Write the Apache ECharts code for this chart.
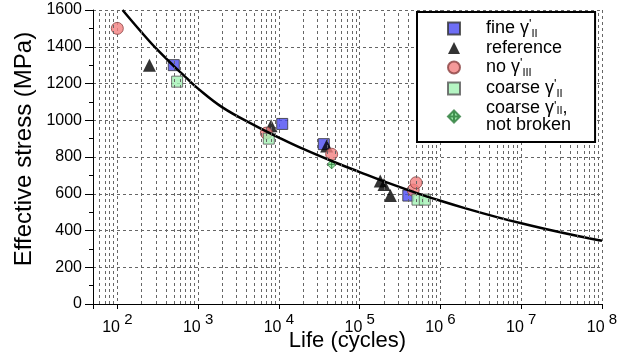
<!DOCTYPE html>
<html>
<head>
<meta charset="utf-8">
<script src="https://cdn.jsdelivr.net/npm/echarts@6/dist/echarts.min.js"></script>
<style>
  html, body { margin: 0; padding: 0; background: #fff; }
  #chart { width: 618px; height: 353px; }
</style>
</head>
<body>
<div id="chart"></div>
<script>
// values
const fineLife = [500, 11000, 36000, 400000];
const fineStress = [1300, 980, 870, 590];
const refLife = [250, 8000, 39000, 180000, 200000, 240000];
const refStress = [1300, 970, 860, 670, 650, 590];
const noLife = [100, 7000, 45000, 460000, 500000];
const noStress = [1500, 930, 815, 620, 660];
const coarseLife = [550, 7500, 520000, 640000];
const coarseStress = [1210, 900, 568, 568];
const notBrokenLife = [45000];
const notBrokenStress = [760];
const fitLife = [116, 200, 300, 500, 700, 1000, 2000, 5000, 1e4, 2e4, 5e4, 1e5, 2e5, 5e5, 1e6, 2e6, 5e6, 1e7, 2e7, 5e7, 1e8];
const fitStress = [1600, 1478, 1392, 1295, 1235, 1172, 1070, 972, 906, 844, 770, 718, 667, 605, 562, 522, 473, 439, 408, 370, 344];

// minor log gridlines (2..9 of each decade)
const minorLines = [];
for (let d = 1; d <= 7; d++) {
  for (let m = 2; m <= 9; m++) {
    const v = m * Math.pow(10, d);
    if (v > 50) minorLines.push({ xAxis: v });
  }
}

const FONT = "Liberation Sans";
const pairs = (xs, ys) => xs.map((x, i) => [x, ys[i]]);

const gammaRich = {
  n: { fontSize: 18, lineHeight: 21, fontFamily: FONT, color: "#000" },
  sup: { fontSize: 13, lineHeight: 21, verticalAlign: "top", fontFamily: FONT, color: "#000" },
  sub: { fontSize: 11, lineHeight: 21, verticalAlign: "bottom", fontFamily: FONT, color: "#000" },
  m: { fontSize: 18, lineHeight: 17, fontFamily: FONT, color: "#000" },
  msup: { fontSize: 13, lineHeight: 17, verticalAlign: "top", fontFamily: FONT, color: "#000" },
  msub: { fontSize: 11, lineHeight: 17, verticalAlign: "bottom", fontFamily: FONT, color: "#000" }
};

const labels = {
  fine: "{n|fine γ}{sup|'}{sub|II}",
  ref: "{n|reference}",
  no: "{n|no γ}{sup|'}{sub|III}",
  coarse: "{n|coarse γ}{sup|'}{sub|II}",
  nb: "{m|coarse γ}{msup|'}{msub|II}{m|,}\n{m|not broken}"
};

const chart = echarts.init(document.getElementById("chart"));

const gridStyle = { type: [3, 3], color: "#666", width: 1 };

chart.setOption({
  animation: false,
  textStyle: { fontFamily: FONT },
  grid: { left: 93, right: 16, top: 10, bottom: 49, containLabel: false, outerBoundsMode: "none" },
  xAxis: {
    type: "log",
    logBase: 10,
    min: 50,
    max: 1e8,
    name: "Life (cycles)",
    nameLocation: "middle",
    nameGap: 26,
    nameMoveOverlap: false,
    nameTextStyle: { fontSize: 22, color: "#000", fontFamily: FONT },
    axisLine: { show: true, lineStyle: { color: "#000", width: 1 } },
    axisTick: { show: true, length: 5, lineStyle: { color: "#000" } },
    splitLine: { show: true, lineStyle: gridStyle },
    axisLabel: {
      margin: 8,
      formatter: v => {
        const e = Math.log10(v);
        if (Math.abs(e - Math.round(e)) > 1e-6) return "";
        return "{b|10}{s| " + Math.round(e) + "}";
      },
      rich: {
        b: { fontSize: 16, lineHeight: 24, verticalAlign: "bottom", color: "#000", fontFamily: FONT },
        s: { fontSize: 15, lineHeight: 24, verticalAlign: "top", color: "#000", fontFamily: FONT }
      }
    }
  },
  yAxis: {
    type: "value",
    min: 0,
    max: 1600,
    interval: 200,
    name: "Effective stress (MPa)",
    nameLocation: "middle",
    nameGap: 57,
    nameMoveOverlap: false,
    nameTextStyle: { fontSize: 24, color: "#000", fontFamily: FONT, padding: [0, 0, 0, 16] },
    axisLine: { show: true, lineStyle: { color: "#000", width: 1 } },
    axisTick: { show: true, length: 8, lineStyle: { color: "#000" } },
    minorTick: { show: true, splitNumber: 2, length: 4, lineStyle: { color: "#000" } },
    splitLine: { show: true, lineStyle: gridStyle },
    axisLabel: { fontSize: 16, color: "#000", margin: 11, fontFamily: FONT, formatter: v => String(v) }
  },
  legend: {
    orient: "vertical",
    left: 417,
    top: 12,
    padding: [6, 24, 8, 30],
    itemGap: 0,
    itemWidth: 12,
    itemHeight: 12,
    backgroundColor: "#fff",
    borderColor: "#000",
    borderWidth: 2,
    borderRadius: 0,
    z: 10,
    data: ["fine", "ref", "no", "coarse", "nb"],
    formatter: name => labels[name],
    textStyle: { padding: [0, 0, 0, 21], rich: gammaRich }
  },
  series: [
    {
      type: "line",
      name: "grid",
      data: [],
      silent: true,
      z: 1,
      markLine: {
        silent: true,
        symbol: ["none", "none"],
        label: { show: false },
        lineStyle: gridStyle,
        data: minorLines
      }
    },
    {
      type: "scatter", name: "fine", z: 3,
      symbol: "rect", symbolSize: 11,
      itemStyle: { color: "#4a4af2", borderColor: "#333", borderWidth: 1 },
      data: pairs(fineLife, fineStress)
    },
    {
      type: "scatter", name: "ref", z: 3,
      symbol: "triangle", symbolSize: 13,
      itemStyle: { color: "#000" },
      data: pairs(refLife, refStress)
    },
    {
      type: "scatter", name: "no", z: 3,
      symbol: "circle", symbolSize: 12,
      itemStyle: { color: "#f28080", borderColor: "#8a4040", borderWidth: 1 },
      data: pairs(noLife, noStress)
    },
    {
      type: "scatter", name: "coarse", z: 3,
      symbol: "rect", symbolSize: 11,
      itemStyle: { color: "#a2f2b4", borderColor: "#555", borderWidth: 1 },
      data: pairs(coarseLife, coarseStress)
    },
    {
      type: "scatter", name: "nb", z: 3,
      symbol: "path://M0,-1L1,0L0,1L-1,0Z M0,-1L0,1 M-1,0L1,0",
      symbolSize: 9,
      itemStyle: { color: "#7fe090", borderColor: "#2a7a3a", borderWidth: 1 },
      data: pairs(notBrokenLife, notBrokenStress)
    },
    {
      type: "line", name: "fit", z: 4,
      smooth: 0.4,
      showSymbol: false,
      silent: true,
      lineStyle: { color: "#000", width: 2.5 },
      data: pairs(fitLife, fitStress)
    }
  ]
});
</script>
</body>
</html>
